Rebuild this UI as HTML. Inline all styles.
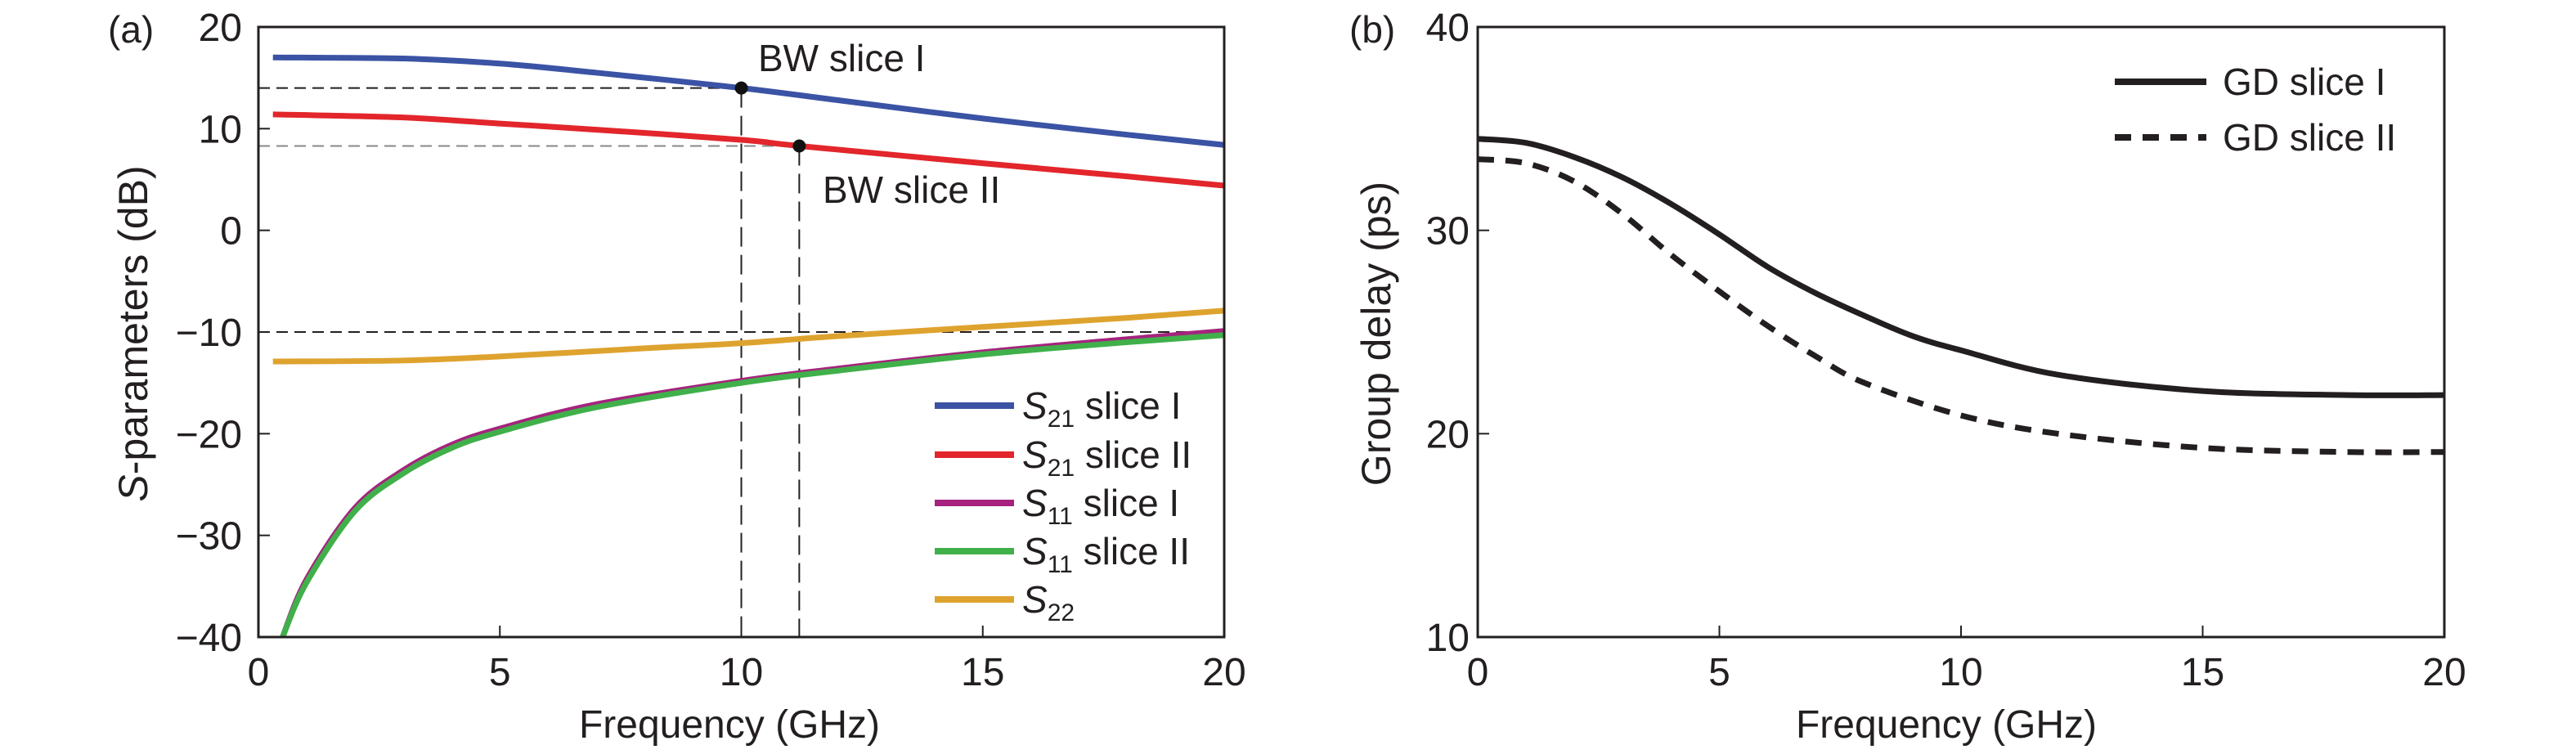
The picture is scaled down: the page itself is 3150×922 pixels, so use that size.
<!DOCTYPE html>
<html><head><meta charset="utf-8"><style>
html,body{margin:0;padding:0;background:#fff;}
svg{display:block;font-family:"Liberation Sans Narrow","Liberation Sans",sans-serif;fill:#231f20;}
</style></head><body>
<svg id="fig" width="3150" height="922" viewBox="0 0 3150 922" xmlns="http://www.w3.org/2000/svg">
<g id="pa"></g>
<g id="pb"></g>
</svg>
<script>
// ---- Panel (a) data ----
const s21IFreq = [0.3, 3, 5, 7, 10, 12, 15, 18, 20];
const s21IVals = [17, 16.9, 16.4, 15.5, 14, 12.8, 11, 9.4, 8.4];
const s21IIFreq = [0.3, 3, 5, 7, 10, 11.2, 15, 18, 20];
const s21IIVals = [11.4, 11.1, 10.5, 9.9, 8.9, 8.3, 6.6, 5.3, 4.4];
const s11Freq = [0.5, 1, 2, 3, 4, 5, 7, 10, 12, 15, 18, 20];
const s11IVals = [-40, -34.3, -27.3, -23.6, -21.1, -19.5, -17.1, -14.8, -13.6, -12.0, -10.7, -9.9];
const s11IIVals = [-40, -34.6, -27.6, -23.9, -21.4, -19.8, -17.4, -15.0, -13.8, -12.2, -11.0, -10.3];
const s22Freq = [0.3, 3, 5, 8, 10, 12, 15, 18, 20];
const s22Vals = [-12.9, -12.8, -12.4, -11.6, -11.1, -10.4, -9.5, -8.6, -7.9];
const bwFreq = [10, 11.2];
const bwLevel = [14, 8.3];
const refLevel = [-10];
const aXTicks = [0, 5, 10, 15, 20];
const aYTicks = [20, 10, 0, -10, -20, -30, -40];
// ---- Panel (b) data ----
const gdFreq = [0, 1, 2, 3, 4, 5, 6, 7, 8, 9, 10, 12, 15, 18, 20];
const gdIVals = [34.5, 34.3, 33.6, 32.6, 31.3, 29.8, 28.2, 26.9, 25.8, 24.8, 24.1, 22.9, 22.1, 21.9, 21.9];
const gdIIFreq = [0, 1, 2, 3, 4, 5, 6, 7, 8, 10, 12, 15, 18, 20];
const gdIIVals = [33.5, 33.3, 32.4, 30.8, 28.8, 27.0, 25.3, 23.8, 22.5, 20.9, 20.0, 19.3, 19.1, 19.1];
const bXTicks = [0, 5, 10, 15, 20];
const bYTicks = [40, 30, 20, 10];

const NS = "http://www.w3.org/2000/svg";
function mk(parent, tag, attrs, text) {
  const e = document.createElementNS(NS, tag);
  for (const k in attrs) e.setAttribute(k, attrs[k]);
  if (text !== undefined) e.textContent = text;
  parent.appendChild(e);
  return e;
}
function lin(d0, d1, r0, r1) { return v => r0 + (v - d0) * (r1 - r0) / (d1 - d0); }
function pathD(xs, ys, sx, sy) {
  const p = xs.map((x, i) => [sx(x), sy(ys[i])]);
  let d = "M" + p[0][0] + "," + p[0][1];
  for (let i = 0; i < p.length - 1; i++) {
    const p0 = p[i - 1] || p[i], p1 = p[i], p2 = p[i + 1], p3 = p[i + 2] || p2;
    const c1 = [p1[0] + (p2[0] - p0[0]) / 6, p1[1] + (p2[1] - p0[1]) / 6];
    const c2 = [p2[0] - (p3[0] - p1[0]) / 6, p2[1] - (p3[1] - p1[1]) / 6];
    d += "C" + c1[0] + "," + c1[1] + " " + c2[0] + "," + c2[1] + " " + p2[0] + "," + p2[1];
  }
  return d;
}

// ===== Panel (a) =====
const A = document.getElementById("pa");
const aL = 316, aR = 1497, aT = 33, aB = 779;
const ax = lin(0, 20, aL, aR), ay = lin(20, -40, aT, aB);

let g;
g = mk(A, "line", {x1: aL, x2: ax(bwFreq[0]), y1: ay(bwLevel[0]), y2: ay(bwLevel[0]), stroke: "#231f20", "stroke-width": 2, "stroke-dasharray": "14,8"});


g = mk(A, "line", {x1: aL, x2: ax(bwFreq[1]), y1: ay(bwLevel[1]), y2: ay(bwLevel[1]), stroke: "#888", "stroke-width": 2, "stroke-dasharray": "14,8"});


g = mk(A, "line", {x1: aL, x2: aR, y1: ay(refLevel[0]), y2: ay(refLevel[0]), stroke: "#231f20", "stroke-width": 2, "stroke-dasharray": "14,8"});


for (let i = 0; i < bwFreq.length; i++) {
  g = mk(A, "line", {x1: ax(bwFreq[i]), x2: ax(bwFreq[i]), y1: ay(bwLevel[i]), y2: aB, stroke: "#231f20", "stroke-width": 2, "stroke-dasharray": "24,10"});
  
  
}

const aSeries = [
  {n: "s22-line", x: s22Freq, y: s22Vals, c: "#dea32f"},
  {n: "s11-slice-1-line", x: s11Freq, y: s11IVals, c: "#a5237e"},
  {n: "s11-slice-2-line", x: s11Freq, y: s11IIVals, c: "#40b04a"},
  {n: "s21-slice-2-line", x: s21IIFreq, y: s21IIVals, c: "#e2262b"},
  {n: "s21-slice-1-line", x: s21IFreq, y: s21IVals, c: "#3b53a4"}
];
aSeries.forEach(s => {
  const p = mk(A, "path", {d: pathD(s.x, s.y, ax, ay), fill: "none", stroke: s.c, "stroke-width": 7});
  
  
});
for (let i = 0; i < bwFreq.length; i++) {
  g = mk(A, "circle", {cx: ax(bwFreq[i]), cy: ay(bwLevel[i]), r: 8, fill: "#111"});
  
  
}
g = mk(A, "text", {x: 927, y: 87, "font-size": 46}, "BW slice I");


g = mk(A, "text", {x: 1006, y: 248, "font-size": 46}, "BW slice II");



g = mk(A, "rect", {x: aL, y: aT, width: aR - aL, height: aB - aT, fill: "none", stroke: "#231f20", "stroke-width": 3});


aXTicks.forEach(t => {
  g = mk(A, "line", {x1: ax(t), x2: ax(t), y1: aB, y2: aB - 14, stroke: "#231f20", "stroke-width": 2});
  
  
  g = mk(A, "text", {x: ax(t), y: 838, "font-size": 48, "text-anchor": "middle"}, String(t));
  
  
});
aYTicks.forEach(t => {
  g = mk(A, "line", {x1: aL, x2: aL + 14, y1: ay(t), y2: ay(t), stroke: "#231f20", "stroke-width": 2});
  
  
  g = mk(A, "text", {x: 296, y: ay(t) + 17, "font-size": 48, "text-anchor": "end"}, t < 0 ? "\u2212" + Math.abs(t) : String(t));
  
  
});
g = mk(A, "text", {x: 892, y: 902, "font-size": 48, "text-anchor": "middle"}, "Frequency (GHz)");


g = mk(A, "text", {x: 0, y: 0, "font-size": 50, "text-anchor": "middle", "font-family": "Liberation Sans, sans-serif", transform: "translate(180,408) rotate(-90)"});


mk(g, "tspan", {"font-style": "italic"}, "S");
mk(g, "tspan", {}, "-parameters (dB)");
g = mk(A, "text", {x: 132, y: 52, "font-size": 46}, "(a)");



const legA = [
  {c: "#3b53a4", sub: "21", t: " slice I", y: 496},
  {c: "#e2262b", sub: "21", t: " slice II", y: 556},
  {c: "#a5237e", sub: "11", t: " slice I", y: 615},
  {c: "#40b04a", sub: "11", t: " slice II", y: 674},
  {c: "#dea32f", sub: "22", t: "", y: 733}
];
legA.forEach(l => {
  const e = mk(A, "g", {});
  
  
  mk(e, "line", {x1: 1143, x2: 1240, y1: l.y, y2: l.y, stroke: l.c, "stroke-width": 8});
  const tx = mk(e, "text", {x: 1250, y: l.y + 16, "font-size": 46});
  mk(tx, "tspan", {"font-style": "italic"}, "S");
  mk(tx, "tspan", {"font-size": 30, dy: 10}, l.sub);
  mk(tx, "tspan", {dy: -10}, l.t);
});

// ===== Panel (b) =====
const B = document.getElementById("pb");
const bL = 1807, bR = 2989, bT = 33, bB = 779;
const bx = lin(0, 20, bL, bR), by = lin(40, 10, bT, bB);
g = mk(B, "path", {d: pathD(gdFreq, gdIVals, bx, by), fill: "none", stroke: "#231f20", "stroke-width": 7});


g = mk(B, "path", {d: pathD(gdIIFreq, gdIIVals, bx, by), fill: "none", stroke: "#231f20", "stroke-width": 7, "stroke-dasharray": "20,14"});


g = mk(B, "rect", {x: bL, y: bT, width: bR - bL, height: bB - bT, fill: "none", stroke: "#231f20", "stroke-width": 3});


bXTicks.forEach(t => {
  g = mk(B, "line", {x1: bx(t), x2: bx(t), y1: bB, y2: bB - 14, stroke: "#231f20", "stroke-width": 2});
  
  
  g = mk(B, "text", {x: bx(t), y: 838, "font-size": 48, "text-anchor": "middle"}, String(t));
  
  
});
bYTicks.forEach(t => {
  g = mk(B, "line", {x1: bL, x2: bL + 14, y1: by(t), y2: by(t), stroke: "#231f20", "stroke-width": 2});
  
  
  g = mk(B, "text", {x: 1797, y: by(t) + 17, "font-size": 48, "text-anchor": "end"}, String(t));
  
  
});
g = mk(B, "text", {x: 2380, y: 902, "font-size": 48, "text-anchor": "middle"}, "Frequency (GHz)");


g = mk(B, "text", {x: 0, y: 0, "font-size": 50, "text-anchor": "middle", "font-family": "Liberation Sans, sans-serif", transform: "translate(1700,408) rotate(-90)"}, "Group delay (ps)");


g = mk(B, "text", {x: 1650, y: 52, "font-size": 46}, "(b)");


const legB = [{t: "GD slice I", y: 100, dash: ""}, {t: "GD slice II", y: 168, dash: "20,14"}];
legB.forEach(l => {
  const e = mk(B, "g", {});
  
  
  const a = {x1: 2586, x2: 2698, y1: l.y, y2: l.y, stroke: "#231f20", "stroke-width": 8};
  if (l.dash) a["stroke-dasharray"] = l.dash;
  mk(e, "line", a);
  mk(e, "text", {x: 2718, y: l.y + 16, "font-size": 46}, l.t);
});
</script>
</body></html>
